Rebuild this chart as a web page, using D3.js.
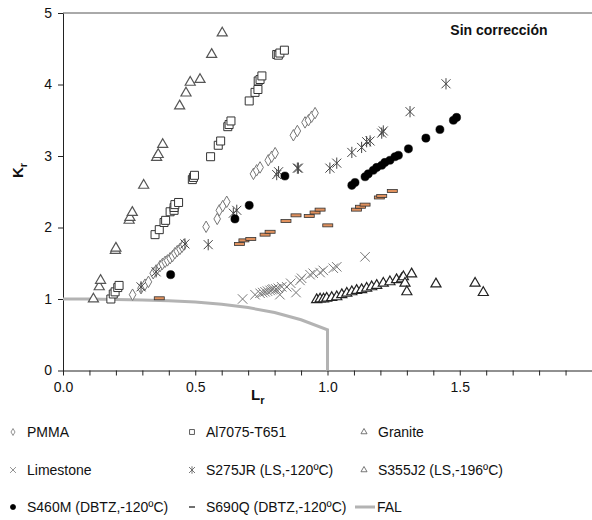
<!DOCTYPE html>
<html>
<head>
<meta charset="utf-8">
<script src="https://cdn.jsdelivr.net/npm/d3@7"></script>
<style>
  body { margin: 0; background: #fff; }
  svg text { font-family: "Liberation Sans", Arial, sans-serif; fill: #111; }
</style>
</head>
<body>
<script>
// Failure assessment diagram, "Sin corrección" (Lr vs Kr)

// ----- data -----
var pmmaLr = [0.263,0.295,0.310,0.323,0.341,0.352,0.367,0.376,0.386,0.395,0.405,0.414,0.423,0.432,0.442,0.450,0.457,0.541,0.583,0.591,0.604,0.619,0.720,0.732,0.745,0.776,0.789,0.802,0.871,0.886,0.915,0.928,0.940,0.953];
var pmmaKr = [1.06,1.15,1.20,1.24,1.36,1.40,1.46,1.49,1.52,1.54,1.57,1.60,1.64,1.67,1.70,1.73,1.76,2.01,2.12,2.24,2.30,2.36,2.75,2.80,2.84,2.94,2.99,3.04,3.29,3.35,3.47,3.50,3.55,3.60];

var alLr = [0.181,0.190,0.197,0.207,0.212,0.348,0.364,0.382,0.388,0.405,0.420,0.420,0.423,0.437,0.489,0.493,0.497,0.558,0.587,0.596,0.623,0.628,0.635,0.704,0.726,0.737,0.738,0.745,0.752,0.808,0.814,0.820,0.837];
var alKr = [1.00,1.07,1.10,1.16,1.19,1.90,1.97,2.07,2.10,2.22,2.24,2.28,2.32,2.35,2.67,2.70,2.73,2.99,3.15,3.21,3.41,3.44,3.49,3.77,3.89,3.93,4.05,4.07,4.12,4.42,4.41,4.44,4.48];

var graniteLr = [0.115,0.137,0.142,0.198,0.200,0.250,0.253,0.262,0.305,0.354,0.360,0.377,0.441,0.465,0.481,0.518,0.562,0.602];
var graniteKr = [1.00,1.17,1.26,1.68,1.71,2.10,2.14,2.21,2.59,2.98,3.02,3.16,3.70,3.88,4.03,4.07,4.42,4.72];

var limeLr = [0.679,0.726,0.745,0.755,0.764,0.773,0.783,0.790,0.795,0.805,0.814,0.820,0.827,0.846,0.861,0.881,0.896,0.902,0.934,0.946,0.972,0.984,1.022,1.035,1.142];
var limeKr = [1.00,1.06,1.08,1.09,1.10,1.11,1.12,1.13,1.14,1.14,1.15,1.06,1.17,1.17,1.22,1.09,1.26,1.29,1.34,1.36,1.37,1.40,1.43,1.45,1.59];

var s275Lr = [0.295,0.352,0.461,0.549,0.644,0.657,0.808,0.815,0.886,0.890,1.009,1.035,1.092,1.129,1.148,1.161,1.205,1.211,1.312,1.448];
var s275Kr = [1.17,1.38,1.77,1.76,2.20,2.24,2.74,2.78,2.83,2.83,2.83,2.90,3.05,3.12,3.20,3.21,3.32,3.35,3.62,4.01];

var s355Lr = [0.959,0.972,0.985,0.997,1.016,1.035,1.054,1.073,1.092,1.110,1.129,1.148,1.167,1.186,1.211,1.236,1.261,1.280,1.287,1.293,1.300,1.318,1.410,1.558,1.589];
var s355Kr = [0.99,1.00,1.00,1.01,1.02,1.03,1.06,1.08,1.10,1.12,1.13,1.15,1.17,1.19,1.22,1.24,1.27,1.28,1.31,1.22,1.10,1.35,1.21,1.22,1.09];

var s460Lr = [0.407,0.650,0.704,0.839,1.092,1.104,1.142,1.154,1.173,1.186,1.205,1.217,1.236,1.255,1.268,1.306,1.372,1.425,1.476,1.488];
var s460Kr = [1.34,2.12,2.31,2.72,2.59,2.63,2.71,2.75,2.80,2.84,2.87,2.91,2.94,2.99,3.01,3.10,3.25,3.37,3.50,3.54];

var s690Lr = [0.364,0.667,0.684,0.710,0.764,0.783,0.843,0.881,0.931,0.953,0.972,1.001,1.110,1.125,1.142,1.196,1.205,1.245];
var s690Kr = [1.01,1.77,1.82,1.84,1.90,1.94,2.09,2.17,2.16,2.21,2.25,2.03,2.25,2.29,2.32,2.42,2.44,2.51];

var falLr = [0, 0.1, 0.2, 0.3, 0.4, 0.5, 0.6, 0.7, 0.8, 0.9, 1.0, 1.0];
var falKr = [1.0, 0.999, 0.994, 0.987, 0.977, 0.958, 0.928, 0.88, 0.81, 0.71, 0.57, 0];

var xTickLabels = ["0.0", "0.5", "1.0", "1.5"];
var yTickLabels = ["0", "1", "2", "3", "4", "5"];

// ----- page -----
var W = 592, H = 520;
var plotLeft = 63, plotRight = 592, plotTop = 13, plotBottom = 370.5;

var svg = d3.select("body").append("svg")
  .attr("width", W)
  .attr("height", H);

var x = d3.scaleLinear().domain([0, 2]).range([plotLeft, plotRight]);
var y = d3.scaleLinear().domain([0, 5]).range([plotBottom, plotTop]);

function zip(a, b) {
  return a.map(function(v, i) { return [v, b[i]]; });
}

// frame top line
svg.append("line")
  .attr("x1", plotLeft).attr("x2", plotRight)
  .attr("y1", plotTop).attr("y2", plotTop)
  .attr("stroke", "#555").attr("stroke-width", 1);

// x axis with minor ticks every 0.1
var xAxis = d3.axisBottom(x)
  .tickValues(d3.range(0, 21).map(function(i) { return i / 10; }))
  .tickSize(5)
  .tickSizeOuter(0)
  .tickFormat(function(d) {
    var k = Math.round(d * 10);
    return (k % 5 === 0 && k < 20) ? xTickLabels[k / 5] : "";
  });

var gx = svg.append("g")
  .attr("transform", "translate(0," + plotBottom + ")")
  .call(xAxis);
gx.select(".domain").attr("stroke", "#222");
gx.selectAll(".tick line").attr("stroke", "#222");
gx.selectAll(".tick text")
  .attr("font-size", 14)
  .attr("font-family", "Liberation Sans, Arial, sans-serif")
  .attr("fill", "#111")
  .attr("dy", "0.95em");

var yAxis = d3.axisLeft(y)
  .tickValues(d3.range(0, 6))
  .tickSize(5)
  .tickSizeOuter(0)
  .tickFormat(function(d) { return yTickLabels[d]; });

var gy = svg.append("g")
  .attr("transform", "translate(" + plotLeft + ",0)")
  .call(yAxis);
gy.select(".domain").attr("stroke", "#222");
gy.selectAll(".tick line").attr("stroke", "#222");
gy.selectAll(".tick text")
  .attr("font-size", 14)
  .attr("font-family", "Liberation Sans, Arial, sans-serif")
  .attr("fill", "#111")
  .attr("x", -11);

// axis titles
var lt = svg.append("text")
  .attr("x", 251).attr("y", 400)
  .attr("font-size", 15).attr("font-weight", "bold");
lt.append("tspan").text("L");
lt.append("tspan").attr("font-size", 11).attr("dy", 4).text("r");

var kt = svg.append("text")
  .attr("transform", "translate(23,178) rotate(-90)")
  .attr("font-size", 15).attr("font-weight", "bold");
kt.append("tspan").text("K");
kt.append("tspan").attr("font-size", 11).attr("dy", 4).text("r");

// corner label
svg.append("text")
  .attr("x", 499).attr("y", 35)
  .attr("text-anchor", "middle")
  .attr("font-size", 14).attr("font-weight", "bold")
  .text("Sin corrección");

// ----- FAL -----
var line = d3.line()
  .x(function(d) { return x(d[0]); })
  .y(function(d) { return y(d[1]); });

svg.append("path")
  .attr("d", line(zip(falLr, falKr)))
  .attr("fill", "none")
  .attr("stroke", "#b3b3b3")
  .attr("stroke-width", 3);

// ----- markers -----
function asterisk(r) {
  return "M" + (-r) + "," + (-r) + "L" + r + "," + r +
    "M" + (-r) + "," + r + "L" + r + "," + (-r) +
    "M0," + (-r * 1.25) + "L0," + (r * 1.25);
}

var series = [
  { name: "PMMA", lr: pmmaLr, kr: pmmaKr, shape: d3.symbolDiamond, size: 38, fill: "#fff", stroke: "#777", sw: 1, lsize: 14 },
  { name: "Al7075-T651", lr: alLr, kr: alKr, shape: d3.symbolSquare, size: 64, fill: "#fff", stroke: "#333", sw: 1, lsize: 24 },
  { name: "Granite", lr: graniteLr, kr: graniteKr, shape: d3.symbolTriangle, size: 44, fill: "#fff", stroke: "#555", sw: 1.2, lsize: 16 },
  { name: "Limestone", lr: limeLr, kr: limeKr, shape: d3.symbolTimes, size: 60, fill: "none", stroke: "#777", sw: 1, lsize: 24 },
  { name: "S275JR (LS,-120ºC)", lr: s275Lr, kr: s275Kr, custom: "ast", r: 4.5, lr2: 3, fill: "none", stroke: "#444", sw: 1 },
  { name: "S355J2 (LS,-196ºC)", lr: s355Lr, kr: s355Kr, shape: d3.symbolTriangle, size: 44, fill: "#fff", stroke: "#222", sw: 1.2, lsize: 16 },
  { name: "S460M (DBTZ,-120ºC)", lr: s460Lr, kr: s460Kr, shape: d3.symbolCircle, size: 52, fill: "#000", stroke: "#000", sw: 0.5, lsize: 20 },
  { name: "S690Q (DBTZ,-120ºC)", lr: s690Lr, kr: s690Kr, custom: "dash", fill: "#e0915e", stroke: "#333", sw: 0.8 }
];

series.forEach(function(s) {
  var g = svg.append("g").attr("class", "series");
  var pts = zip(s.lr, s.kr);
  if (s.custom === "dash") {
    g.selectAll("rect").data(pts).enter().append("rect")
      .attr("x", function(d) { return x(d[0]) - 5; })
      .attr("y", function(d) { return y(d[1]) - 1.5; })
      .attr("width", 10).attr("height", 3)
      .attr("fill", s.fill).attr("stroke", s.stroke).attr("stroke-width", s.sw);
  } else {
    g.selectAll("path").data(pts).enter().append("path")
      .attr("transform", function(d) { return "translate(" + x(d[0]) + "," + y(d[1]) + ")"; })
      .attr("d", s.custom === "ast" ? asterisk(s.r) : d3.symbol(s.shape, s.size)())
      .attr("fill", s.fill).attr("stroke", s.stroke).attr("stroke-width", s.sw);
  }
});

// ----- legend -----
var colX = [13, 192, 364];
var rowY = [432, 470, 507];

var legendItems = series.map(function(s) { return s; });
legendItems.push({ name: "FAL", custom: "line" });

legendItems.forEach(function(s, i) {
  var cx = colX[i % 3], cy = rowY[Math.floor(i / 3)];
  var g = svg.append("g").attr("transform", "translate(" + cx + "," + cy + ")");
  var tx = 14;
  if (s.custom === "line") {
    g.append("line").attr("x1", -9).attr("x2", 11).attr("y1", 0).attr("y2", 0)
      .attr("stroke", "#b3b3b3").attr("stroke-width", 3);
    tx = 13;
  } else if (s.custom === "dash") {
    g.append("line").attr("x1", -3).attr("x2", 3).attr("y1", 0).attr("y2", 0)
      .attr("stroke", "#222").attr("stroke-width", 1.3);
  } else if (s.custom === "ast") {
    g.append("path").attr("d", asterisk(s.lr2))
      .attr("fill", "none").attr("stroke", "#555").attr("stroke-width", 0.8);
  } else {
    g.append("path").attr("d", d3.symbol(s.shape, s.lsize)())
      .attr("fill", s.fill).attr("stroke", s.stroke === "#222" ? "#555" : s.stroke).attr("stroke-width", 0.8);
  }
  g.append("text")
    .attr("x", tx).attr("y", 0).attr("dy", "0.35em")
    .attr("font-size", 14)
    .text(s.name);
});
</script>
</body>
</html>
